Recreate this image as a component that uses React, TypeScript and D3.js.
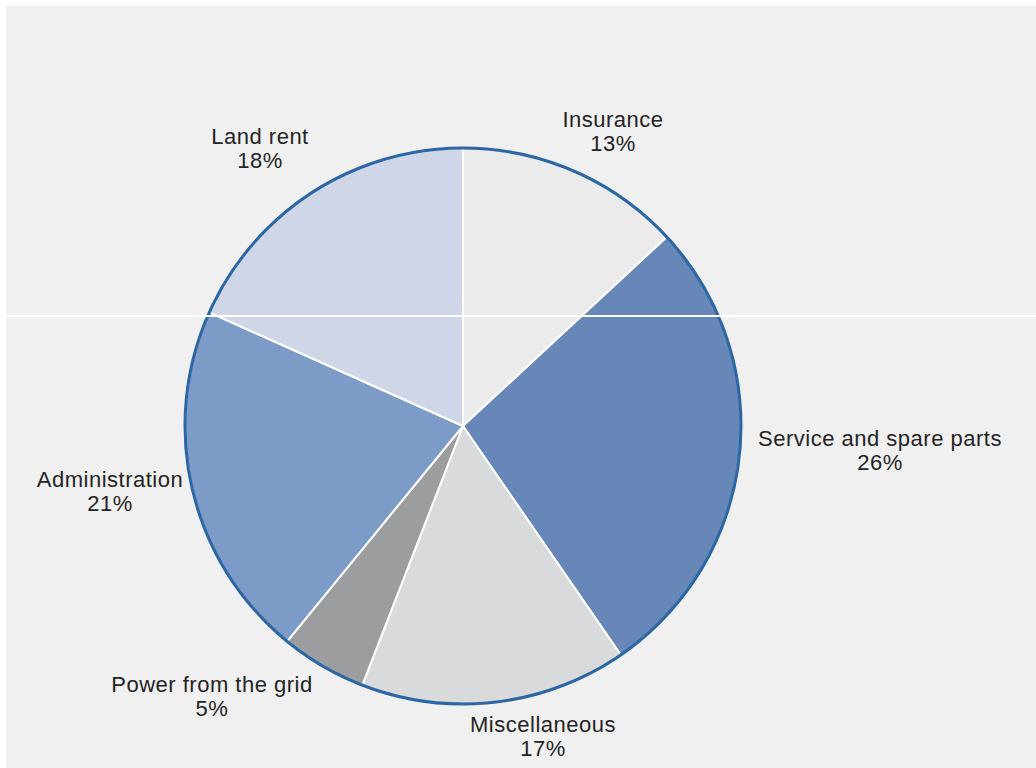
import React from "react";
import * as d3 from "d3";

const categories = [
  "Insurance",
  "Service and spare parts",
  "Miscellaneous",
  "Power from the grid",
  "Administration",
  "Land rent",
];
const shares = [13.1, 27.3, 15.5, 5.0, 20.8, 18.3];
const percentLabels = ["13%", "26%", "17%", "5%", "21%", "18%"];
const sliceColors = ["#ebebeb", "#6687b7", "#d9dadc", "#9c9d9f", "#7d9bc7", "#cfd6e8"];

// label block centre offsets relative to the pie centre (layout only)
const labelOffsets: [number, number][] = [
  [150, -295],
  [417, 24],
  [80, 310],
  [-251, 270],
  [-353, 65],
  [-203, -278],
];

const W = 1036;
const H = 768;
const CX = 463;
const CY = 426;
const R = 278;

export default function App() {
  const pie = d3
    .pie<number>()
    .sort(null)
    .value((d) => d)
    .startAngle(0)
    .endAngle(2 * Math.PI);
  const arcs = pie(shares);
  const arc = d3.arc<d3.PieArcDatum<number>>().innerRadius(0).outerRadius(R);

  return (
    <svg
      width={W}
      height={H}
      style={{ position: "absolute", left: 0, top: 0, background: "#ffffff" }}
    >
      <rect x={6} y={6} width={W - 6} height={H - 6} fill="#f0f0f0" />
      <g transform={`translate(${CX},${CY})`}>
        {arcs.map((a, i) => (
          <path
            key={categories[i]}
            d={arc(a) || ""}
            fill={sliceColors[i]}
            stroke="#ffffff"
            strokeWidth={2}
            strokeLinejoin="round"
          />
        ))}
        <circle r={R} fill="none" stroke="#2c67a3" strokeWidth={3} />
      </g>
      <line x1={0} x2={W} y1={316} y2={316} stroke="#ffffff" strokeWidth={2} />
      <g
        fontFamily="'Liberation Sans', Arial, sans-serif"
        fontSize={22}
        fill="#242424"
        textAnchor="middle"
        style={{ letterSpacing: "0.5px" }}
      >
        {categories.map((c, i) => {
          const [dx, dy] = labelOffsets[i];
          const x = CX + dx;
          const y = CY + dy;
          return (
            <g key={c}>
              <text x={x} y={y - 12} dominantBaseline="central">
                {c}
              </text>
              <text x={x} y={y + 12} dominantBaseline="central">
                {percentLabels[i]}
              </text>
            </g>
          );
        })}
      </g>
    </svg>
  );
}
